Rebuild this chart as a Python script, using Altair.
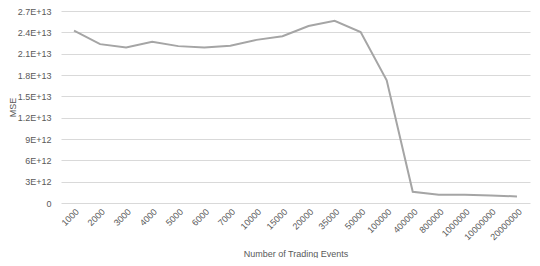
import altair as alt
import pandas as pd

events = ["1000", "2000", "3000", "4000", "5000", "6000", "7000", "10000", "15000",
          "20000", "35000", "50000", "100000", "400000", "800000", "1000000",
          "10000000", "20000000"]
mse = [2.423e13, 2.234e13, 2.188e13, 2.267e13, 2.206e13, 2.188e13, 2.211e13,
       2.294e13, 2.345e13, 2.488e13, 2.562e13, 2.405e13, 1.726e13, 0.157e13,
       0.115e13, 0.115e13, 0.104e13, 0.093e13]
y_ticks = [0, 3e12, 6e12, 9e12, 1.2e13, 1.5e13, 1.8e13, 2.1e13, 2.4e13, 2.7e13]
y_labels = ["0", "3E+12", "6E+12", "9E+12", "1.2E+13", "1.5E+13", "1.8E+13",
            "2.1E+13", "2.4E+13", "2.7E+13"]

df = pd.DataFrame({"events": events, "mse": mse})

cases = " : ".join(f"datum.value == {v} ? '{l}'" for v, l in zip(y_ticks, y_labels)) + " : ''"

chart = alt.Chart(df).mark_line(color="#a5a5a5", strokeWidth=2).encode(
    x=alt.X("events:N", sort=events, title="Number of Trading Events",
            scale=alt.Scale(type="point", padding=0.5),
            axis=alt.Axis(labelAngle=-45, grid=False, domain=False, ticks=False,
                          labelPadding=4, titleY=50, titleBaseline="middle")),
    y=alt.Y("mse:Q", title="MSE",
            scale=alt.Scale(domain=[0, 2.7e13], nice=False),
            axis=alt.Axis(values=y_ticks, labelExpr=cases, domain=False, ticks=False,
                          gridColor="#d9d9d9", gridWidth=1, labelPadding=10,
                          titleX=-49, titleY=96, titleAngle=-90,
                          titleAlign="center", titleBaseline="middle")),
).properties(
    width=469, height=192,
    autosize=alt.AutoSizeParams(type="none"),
    padding={"left": 53, "top": 3, "right": 2, "bottom": 55},
).configure_view(stroke=None).configure_axis(
    labelFont="Liberation Sans", labelFontSize=9, labelColor="#595959",
    titleFont="Liberation Sans", titleFontSize=9, titleColor="#595959",
    titleFontWeight="normal",
)

chart.save("out.html", embed_options={"renderer": "svg", "actions": False})
